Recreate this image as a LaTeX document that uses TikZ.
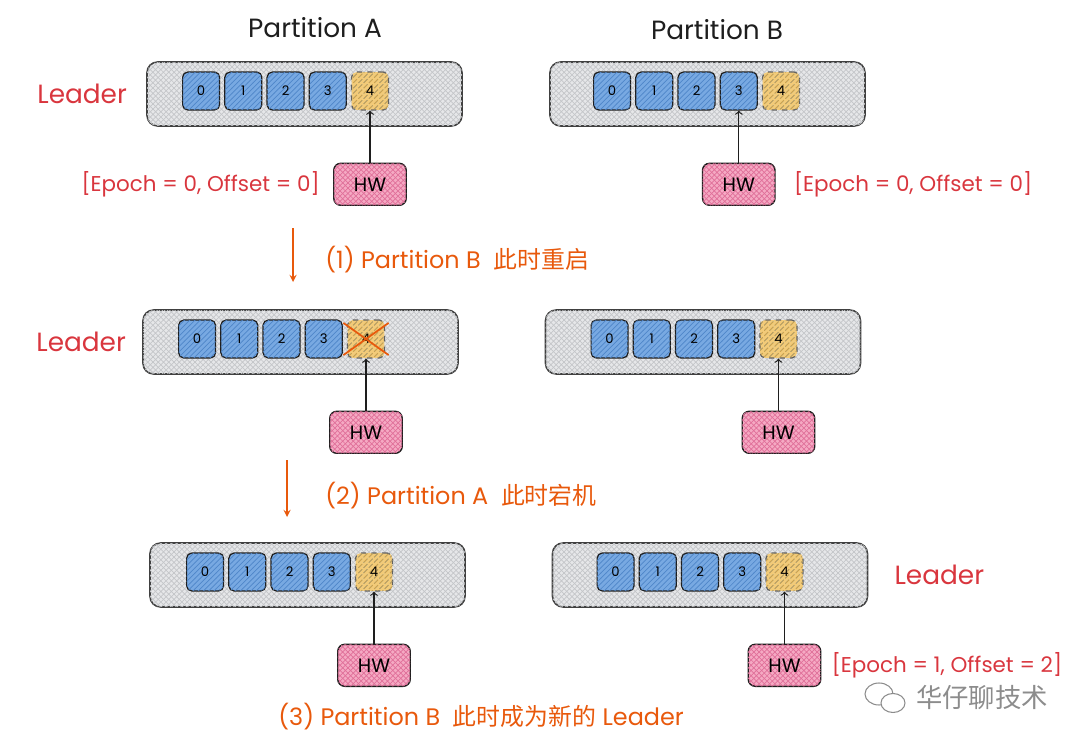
\documentclass[tikz,border=0pt]{standalone}
\usepackage{fontspec}
\setmainfont{Poppins}
\newfontfamily\cjk{Noto Sans CJK SC}
\usetikzlibrary{positioning,patterns}
\definecolor{ink}{HTML}{1E1E1E}
\definecolor{panelgray}{HTML}{E6E7E9}
\definecolor{hatchgray}{HTML}{C4C6C9}
\definecolor{cellblue}{HTML}{78A9E2}
\definecolor{hatchblue}{HTML}{4F86C9}
\definecolor{cellyellow}{HTML}{F3CB78}
\definecolor{hatchyellow}{HTML}{DDA63C}
\definecolor{hwpink}{HTML}{F5A9C3}
\definecolor{hatchpink}{HTML}{E0709A}
\definecolor{leadred}{HTML}{D9363E}
\definecolor{steporange}{HTML}{E8590C}
\definecolor{markgray}{HTML}{8C8C8C}

\begin{document}
\begin{tikzpicture}[x=0.02cm, y=-0.02cm,
    panel/.style={draw=ink!85, line width=0.9pt, fill=panelgray, rounded corners=6pt,
      minimum width=6.3cm, minimum height=1.28cm, inner sep=0pt,
      postaction={pattern=crosshatch, pattern color=hatchgray}},
    cell/.style={draw=ink, line width=0.7pt, fill=cellblue, rounded corners=3pt,
      minimum width=0.74cm, minimum height=0.76cm, inner sep=0pt,
      font=\fontsize{7.5}{8}\selectfont,
      postaction={pattern=north east lines, pattern color=hatchblue}},
    head/.style={cell, draw=ink!70, dashed, fill=cellyellow,
      postaction={pattern=north east lines, pattern color=hatchyellow}},
    hw/.style={draw=ink, line width=0.8pt, fill=hwpink, rounded corners=4pt,
      minimum width=1.45cm, minimum height=0.84cm, inner sep=0pt,
      font=\fontsize{11}{12}\selectfont,
      postaction={pattern=crosshatch, pattern color=hatchpink}},
    title/.style={font=\fontsize{15}{16}\selectfont, color=ink},
    role/.style={font=\fontsize{15}{16}\selectfont, color=leadred, inner sep=0pt},
    epoch/.style={font=\fontsize{12.2}{13}\selectfont, color=leadred, inner sep=0pt},
    stepnote/.style={font=\fontsize{13.6}{14}\selectfont, color=steporange, anchor=west, inner sep=0pt},
    stepline/.style={draw=steporange, line width=0.8pt, -stealth}]
  \useasboundingbox (0,0) rectangle (1080,747);

  % six partition snapshots: name / centre x / centre y / offset of first entry / entry under HW
  \foreach \p/\px/\py/\off/\hwat in {p1/304.5/94/35/4, p2/707.5/94/43/3, p3/300.5/342/35/4,
      p4/703/342/45/4, p5/307.5/575/36/4, p6/710/575/44/4} {
    \node[panel] (\p) at (\px,\py) {};
    \node[cell, anchor=west] (\p-0) at ({\px-157.5+\off},{\py-3}) {0};
    \foreach \i [remember=\i as \j (initially 0)] in {1,2,3}
      \node[cell, right=0.08cm of \p-\j] (\p-\i) {\i};
    \node[head, right=0.08cm of \p-3] (\p-4) {4};
    \node[hw, below=1.04cm of \p-\hwat] (\p-hw) {HW};
    \draw[->, line width=0.7pt, ink] (\p-hw) -- (\p-\hwat);
  }

  % the lost entry on the old leader
  \draw[steporange, line width=1pt] ([shift={(-2pt,-2pt)}]p3-4.north west) -- ([shift={(2pt,2pt)}]p3-4.south east);
  \draw[steporange, line width=1pt] ([shift={(2pt,-2pt)}]p3-4.north east) -- ([shift={(-2pt,2pt)}]p3-4.south west);

  \node[title] (ta) at (315,28) {Partition A};
  \node[title] (tb) at (717,30) {Partition B};

  \node[role, left=0.38cm of p1] (lead1) {Leader};
  \node[role, left=0.32cm of p3] (lead3) {Leader};
  \node[role, right=0.52cm of p6] (lead6) {Leader};

  \node[epoch, left=0.26cm of p1-hw] (ep1) {[Epoch = 0, Offset = 0]};
  \node[epoch, right=0.36cm of p2-hw] (ep2) {[Epoch = 0, Offset = 0]};
  \node[epoch, right=0.2cm of p6-hw] (ep6) {[Epoch = 1, Offset = 2]};

  \coordinate (s1a) at (293,228);
  \coordinate (s1b) at (293,282);
  \draw[stepline] (s1a) -- (s1b);
  \node[stepnote] (s1) at (325,260) {(1) Partition B \ {\cjk 此时重启}};
  \coordinate (s2a) at (287,460);
  \coordinate (s2b) at (287,517);
  \draw[stepline] (s2a) -- (s2b);
  \node[stepnote] (s2) at (325,496) {(2) Partition A \ {\cjk 此时宕机}};
  \node[stepnote] (s3) at (278,717) {(3) Partition B \ {\cjk 此时成为新的} Leader};

  % watermark
  \draw[markgray, line width=0.6pt, fill=white] (879,694) ellipse (14 and 11);
  \draw[markgray, line width=0.6pt, fill=white] (893,703) ellipse (12 and 9.5);
  \node[font=\fontsize{15}{16}\selectfont\cjk, color=markgray, anchor=west] (mark) at (910,697) {华仔聊技术};
\end{tikzpicture}
\end{document}
